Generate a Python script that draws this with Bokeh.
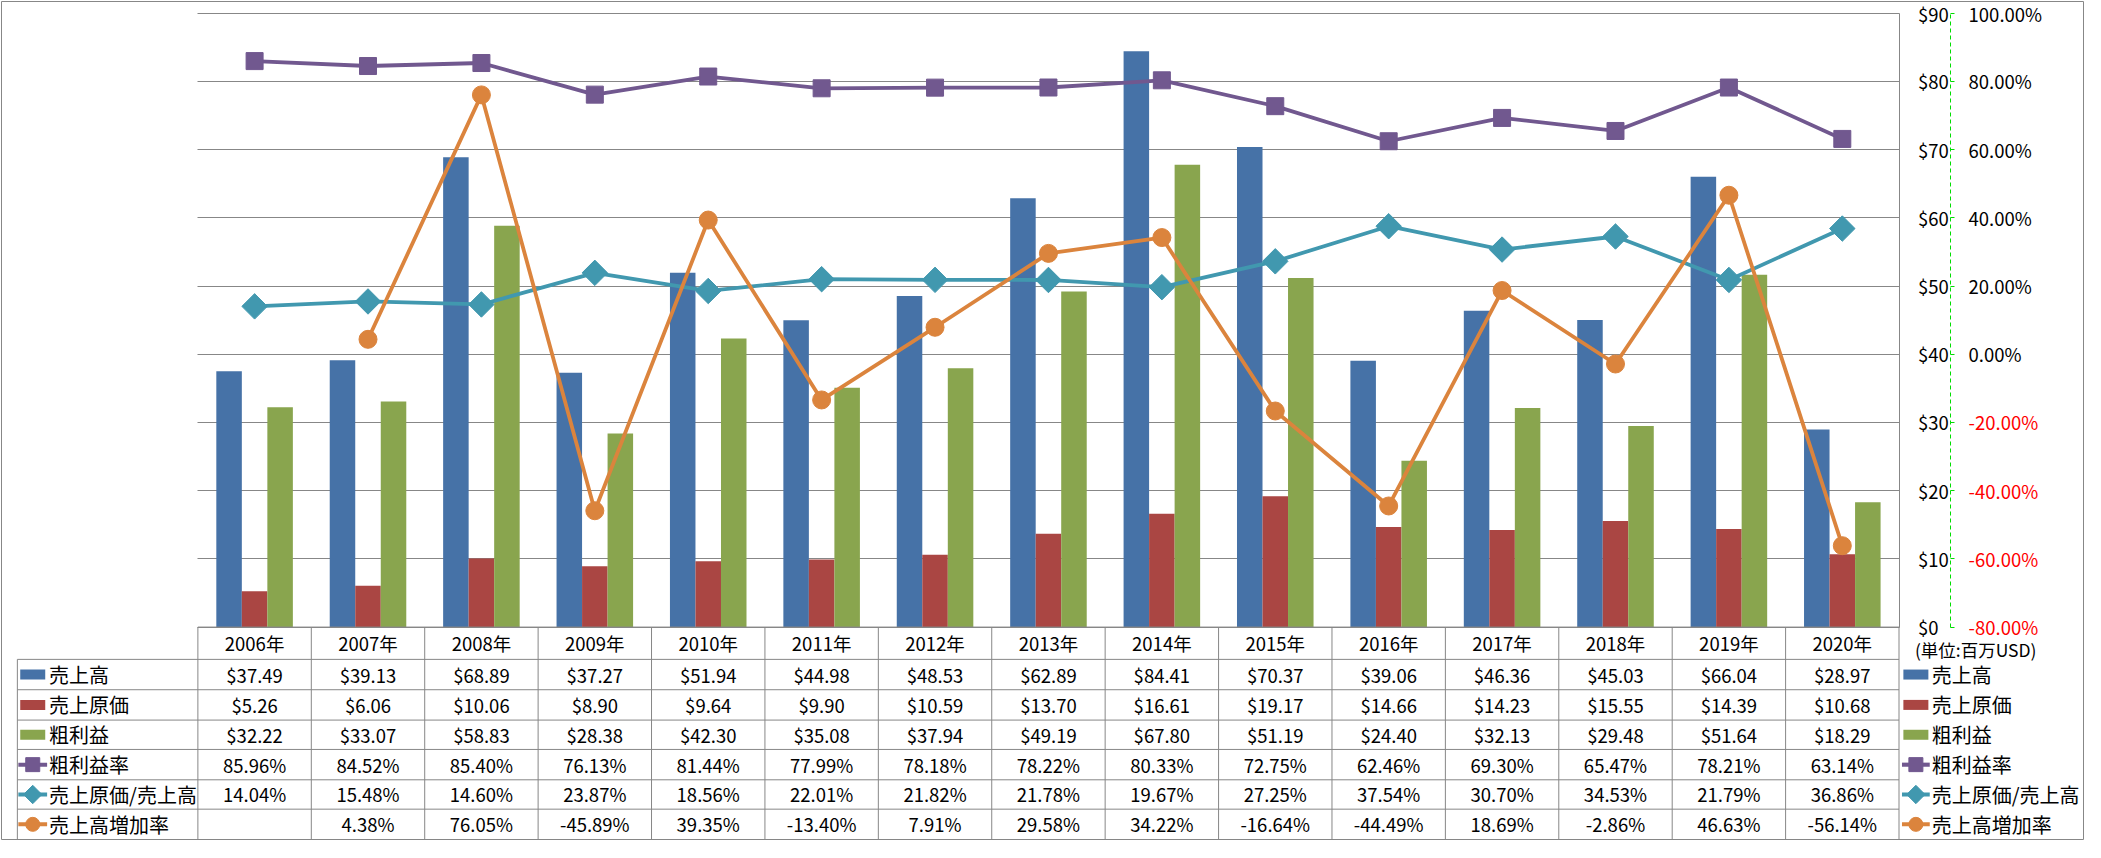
import math
from bokeh.plotting import figure
from bokeh.models import (ColumnDataSource, Range1d, LinearAxis, FixedTicker,
                          NumeralTickFormatter, CustomJSTickFormatter, Grid)
from bokeh.transform import dodge
from bokeh.core.properties import value
from bokeh.embed import file_html
from bokeh.resources import INLINE

# ---------------- data ----------------
years = ["2006年", "2007年", "2008年", "2009年", "2010年", "2011年", "2012年", "2013年",
         "2014年", "2015年", "2016年", "2017年", "2018年", "2019年", "2020年"]
sales = [37.49, 39.13, 68.89, 37.27, 51.94, 44.98, 48.53, 62.89, 84.41, 70.37, 39.06, 46.36, 45.03, 66.04, 28.97]
cogs = [5.26, 6.06, 10.06, 8.90, 9.64, 9.90, 10.59, 13.70, 16.61, 19.17, 14.66, 14.23, 15.55, 14.39, 10.68]
gross = [32.22, 33.07, 58.83, 28.38, 42.30, 35.08, 37.94, 49.19, 67.80, 51.19, 24.40, 32.13, 29.48, 51.64, 18.29]
gm_rate = [85.96, 84.52, 85.40, 76.13, 81.44, 77.99, 78.18, 78.22, 80.33, 72.75, 62.46, 69.30, 65.47, 78.21, 63.14]
cogs_ratio = [14.04, 15.48, 14.60, 23.87, 18.56, 22.01, 21.82, 21.78, 19.67, 27.25, 37.54, 30.70, 34.53, 21.79, 36.86]
growth = [float("nan"), 4.38, 76.05, -45.89, 39.35, -13.40, 7.91, 29.58, 34.22, -16.64, -44.49, 18.69, -2.86, 46.63, -56.14]
series_names = ["売上高", "売上原価", "粗利益", "粗利益率", "売上原価/売上高", "売上高増加率"]
usd_ticks = [0, 10, 20, 30, 40, 50, 60, 70, 80, 90]
pct_ticks_pos = [0, 20, 40, 60, 80, 100]
pct_ticks_neg = [-80, -60, -40, -20]
unit_label = "(単位:百万USD)"

# ---------------- style / layout ----------------
FONT = "Noto Sans CJK JP"
BLUE, RED, GREEN = "#4672A7", "#AA4643", "#89A54E"
PURPLE, TEAL, ORANGE = "#71588F", "#4198AF", "#DB843D"
GRIDC = "#878787"
AXGREEN = "#00DD00"

W, H = 2084, 840
REF_W, REF_H = 2101, 858
SX, SY = W / REF_W, H / REF_H
PL, PR = 199, 1914          # category area (reference px)
Y0, Y90 = 640, 13           # $0 and $90 (reference px)
ROW_EDGES = [640, 673, 704, 735, 765, 796, 826, 857]   # table row boundaries (reference px)
N = len(years)
CW = (PR - PL) / N


def xd(px):
    return (px - PL) / CW


def yd(py):
    return (Y0 - py) * 90 / (Y0 - Y90)


def pdv(py):
    return -80 + (Y0 - py) * 180 / (Y0 - Y90)


top_ref, bot_ref = 1 / SY, (H - 1) / SY
left_ref, right_ref = 1 / SX, (W - 1) / SX

p = figure(width=W, height=H, output_backend="svg", toolbar_location=None,
           x_range=Range1d(xd(left_ref), xd(right_ref)),
           y_range=Range1d(yd(bot_ref), yd(top_ref)),
           x_axis_location=None, y_axis_location=None,
           min_border_left=1, min_border_right=1, min_border_top=1, min_border_bottom=1)
# "tbl" range is expressed in reference pixel rows (flipped: grows downward)
p.extra_y_ranges = {"pct": Range1d(pdv(bot_ref), pdv(top_ref)),
                    "tbl": Range1d(bot_ref, top_ref)}
p.grid.visible = False
p.outline_line_color = GRIDC
p.background_fill_color = "white"
p.border_fill_color = "white"

# gridlines
gkw = dict(dimension=1, ticker=FixedTicker(ticks=usd_ticks), grid_line_color=GRIDC, grid_line_width=1)
if "cross_bounds" in Grid.properties():
    gkw["cross_bounds"] = (0, N)
    p.add_layout(Grid(**gkw), "center")
else:
    p.segment(x0=[0] * len(usd_ticks), x1=[N] * len(usd_ticks), y0=usd_ticks, y1=usd_ticks,
              line_color=GRIDC, line_width=1)

src = ColumnDataSource(dict(xc=[i + 0.5 for i in range(N)], sales=sales, cogs=cogs, gross=gross,
                            gm=gm_rate, ratio=cogs_ratio, growth=growth))

BW = 0.225
p.vbar(x=dodge("xc", -BW, range=p.x_range), top="sales", width=BW, bottom=0, source=src,
       fill_color=BLUE, line_color=None)
p.vbar(x="xc", top="cogs", width=BW, bottom=0, source=src, fill_color=RED, line_color=None)
p.vbar(x=dodge("xc", BW, range=p.x_range), top="gross", width=BW, bottom=0, source=src,
       fill_color=GREEN, line_color=None)

p.line("xc", "gm", source=src, y_range_name="pct", line_color=PURPLE, line_width=3.8)
p.scatter("xc", "gm", source=src, y_range_name="pct", marker="square", size=17,
          fill_color=PURPLE, line_color=PURPLE)
p.line("xc", "ratio", source=src, y_range_name="pct", line_color=TEAL, line_width=3.8)
p.scatter("xc", "ratio", source=src, y_range_name="pct", marker="square", angle=math.pi / 4,
          size=18, fill_color=TEAL, line_color=TEAL)
p.line("xc", "growth", source=src, y_range_name="pct", line_color=ORANGE, line_width=3.8)
p.scatter("xc", "growth", source=src, y_range_name="pct", marker="circle", size=18,
          fill_color=ORANGE, line_color=ORANGE)

# axes
usd_axis = LinearAxis(ticker=FixedTicker(ticks=usd_ticks), formatter=NumeralTickFormatter(format="$0"),
                      fixed_location=N, bounds=(0, 90), axis_line_color=GRIDC,
                      major_tick_out=0, major_tick_in=0, minor_tick_line_color=None,
                      major_label_standoff=19, major_label_text_font=FONT,
                      major_label_text_font_size="18.5px", major_label_text_color="black")
p.add_layout(usd_axis, "right")

pct_fmt = "return tick.toFixed(2) + '%';"
pct_pos = LinearAxis(y_range_name="pct",
                     ticker=FixedTicker(ticks=pct_ticks_pos, minor_ticks=pct_ticks_neg),
                     formatter=CustomJSTickFormatter(code=pct_fmt),
                     fixed_location=xd(1966), bounds=(-80, 100),
                     axis_line_color=AXGREEN, axis_line_dash="4 3",
                     major_tick_out=4, major_tick_in=0, minor_tick_out=4, minor_tick_in=0,
                     major_tick_line_color=AXGREEN, minor_tick_line_color=AXGREEN,
                     major_label_standoff=14, major_label_text_font=FONT,
                     major_label_text_font_size="18.5px", major_label_text_color="black")
p.add_layout(pct_pos, "right")
pct_neg = LinearAxis(y_range_name="pct", ticker=FixedTicker(ticks=pct_ticks_neg),
                     formatter=CustomJSTickFormatter(code=pct_fmt),
                     fixed_location=xd(1966), bounds=(-80, 100),
                     axis_line_color=None, major_tick_out=4, major_tick_in=0,
                     major_tick_line_color=None, minor_tick_line_color=None,
                     major_label_standoff=14, major_label_text_font=FONT,
                     major_label_text_font_size="18.5px", major_label_text_color="#FF0000")
p.add_layout(pct_neg, "right")

# ---------------- data table ----------------
x_lab = xd(17)
NR = len(ROW_EDGES) - 1
hx0 = [0 if r == 0 else x_lab for r in range(NR + 1)]
p.segment(x0=hx0, x1=[N] * (NR + 1), y0=ROW_EDGES, y1=ROW_EDGES, y_range_name="tbl",
          line_color=GRIDC, line_width=1)
vx = list(range(N + 1)) + [x_lab]
vy0 = [ROW_EDGES[0]] * (N + 1) + [ROW_EDGES[1]]
vy1 = [ROW_EDGES[-1]] * (N + 2)
p.segment(x0=vx, x1=vx, y0=vy0, y1=vy1, y_range_name="tbl", line_color=GRIDC, line_width=1)

row_c = [(ROW_EDGES[i] + ROW_EDGES[i + 1]) / 2 for i in range(NR)]

# header
p.text(x=[i + 0.5 for i in range(N)], y=[row_c[0]] * N, text=years, y_range_name="tbl",
       text_font=value(FONT), text_font_size=value("18.5px"), text_align="center",
       text_baseline="middle", text_color="black")

rows = [sales, cogs, gross, gm_rate, cogs_ratio, growth]
tx, ty, tt = [], [], []
for k, row in enumerate(rows):
    for i, v in enumerate(row):
        if v != v:
            s = ""
        elif k < 3:
            s = "${:.2f}".format(v)
        else:
            s = "{:.2f}%".format(v)
        tx.append(i + 0.5)
        ty.append(row_c[k + 1])
        tt.append(s)
p.text(x=tx, y=ty, text=tt, y_range_name="tbl", text_font=value(FONT),
       text_font_size=value("18.5px"), text_align="center", text_baseline="middle", text_color="black")

# row labels (left) and legend (right)
row_y = row_c[1:]
for lab_x, sym_c, seg0, seg1 in ((xd(49), xd(32.5), xd(18), xd(47)),
                                 (xd(1947), xd(1931), xd(1917), xd(1945))):
    p.text(x=[lab_x] * 6, y=row_y, text=series_names, y_range_name="tbl",
           text_font=value(FONT), text_font_size=value("20px"), text_align="left",
           text_baseline="middle", text_color="black")
    p.rect(x=[sym_c] * 3, y=row_y[:3], width=25, width_units="screen", height=10,
           height_units="screen", fill_color=[BLUE, RED, GREEN], line_color=None, y_range_name="tbl")
    p.segment(x0=[seg0] * 3, x1=[seg1] * 3, y0=row_y[3:], y1=row_y[3:],
              line_color=[PURPLE, TEAL, ORANGE], line_width=4, y_range_name="tbl")
    p.scatter(x=[sym_c] * 3, y=row_y[3:], marker=["square", "square", "circle"],
              angle=[0, math.pi / 4, 0], size=[14, 13, 14],
              fill_color=[PURPLE, TEAL, ORANGE], line_color=[PURPLE, TEAL, ORANGE],
              y_range_name="tbl")

p.text(x=[xd(1930)], y=[663], text=[unit_label], y_range_name="tbl",
       text_font=value(FONT), text_font_size=value("17.5px"), text_align="left",
       text_baseline="middle", text_color="black")

open("out.html", "w").write(file_html(p, INLINE))
